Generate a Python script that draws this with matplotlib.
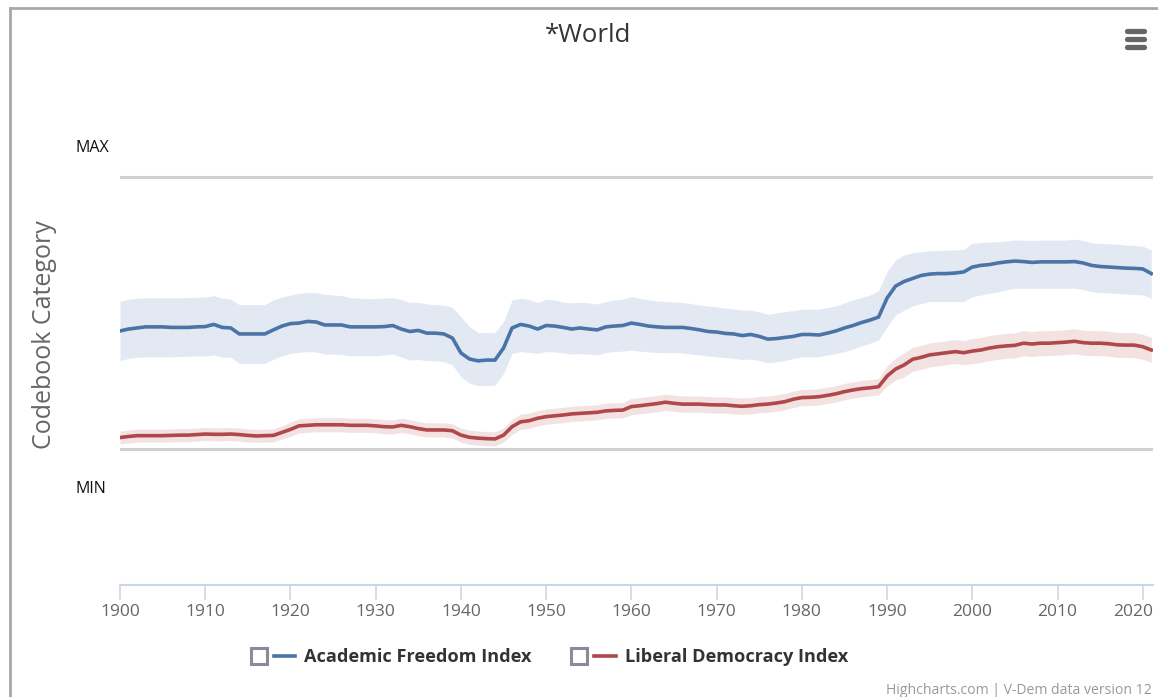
import matplotlib
matplotlib.use("Agg")
import matplotlib.pyplot as plt
from matplotlib.lines import Line2D
from matplotlib.legend_handler import HandlerTuple
from matplotlib.transforms import ScaledTranslation
import numpy as np

plt.rcParams['font.family'] = ['Open Sans', 'DejaVu Sans']

years = list(range(1900, 2022))

# Academic Freedom Index (0 = MIN, 1 = MAX)
afi = [0.434, 0.441, 0.445, 0.449, 0.449, 0.449, 0.447, 0.447, 0.447, 0.449,
       0.450, 0.458, 0.447, 0.445, 0.423, 0.423, 0.423, 0.423, 0.438, 0.452,
       0.461, 0.463, 0.469, 0.467, 0.456, 0.456, 0.456, 0.449, 0.449, 0.449,
       0.449, 0.450, 0.454, 0.441, 0.432, 0.436, 0.426, 0.426, 0.423, 0.408,
       0.353, 0.331, 0.324, 0.327, 0.327, 0.371, 0.445, 0.458, 0.452, 0.441,
       0.454, 0.452, 0.447, 0.441, 0.445, 0.441, 0.438, 0.449, 0.452, 0.454,
       0.463, 0.458, 0.452, 0.449, 0.447, 0.447, 0.447, 0.443, 0.438, 0.432,
       0.430, 0.425, 0.423, 0.417, 0.421, 0.414, 0.404, 0.406, 0.410, 0.414,
       0.421, 0.421, 0.419, 0.426, 0.434, 0.445, 0.454, 0.465, 0.474, 0.485,
       0.555, 0.599, 0.616, 0.627, 0.638, 0.643, 0.645, 0.645, 0.647, 0.651,
       0.669, 0.675, 0.678, 0.684, 0.688, 0.691, 0.689, 0.686, 0.688, 0.688,
       0.688, 0.688, 0.689, 0.684, 0.675, 0.671, 0.669, 0.667, 0.665, 0.664,
       0.662, 0.645]
afi_high = [0.542, 0.551, 0.554, 0.556, 0.556, 0.556, 0.556, 0.556, 0.557, 0.558,
            0.558, 0.564, 0.555, 0.551, 0.531, 0.531, 0.531, 0.531, 0.548, 0.559,
            0.566, 0.572, 0.575, 0.575, 0.569, 0.566, 0.564, 0.556, 0.555, 0.553,
            0.553, 0.555, 0.556, 0.550, 0.539, 0.540, 0.533, 0.531, 0.529, 0.521,
            0.486, 0.450, 0.428, 0.428, 0.428, 0.468, 0.548, 0.554, 0.550, 0.538,
            0.550, 0.548, 0.540, 0.537, 0.539, 0.537, 0.533, 0.542, 0.548, 0.551,
            0.560, 0.554, 0.548, 0.544, 0.542, 0.540, 0.539, 0.535, 0.529, 0.526,
            0.523, 0.518, 0.515, 0.511, 0.511, 0.504, 0.495, 0.500, 0.505, 0.509,
            0.514, 0.514, 0.514, 0.520, 0.526, 0.537, 0.548, 0.557, 0.566, 0.582,
            0.652, 0.695, 0.713, 0.722, 0.725, 0.729, 0.730, 0.731, 0.732, 0.734,
            0.756, 0.759, 0.761, 0.762, 0.765, 0.768, 0.768, 0.767, 0.768, 0.768,
            0.768, 0.768, 0.771, 0.767, 0.758, 0.756, 0.754, 0.753, 0.750, 0.748,
            0.746, 0.732]
afi_low = [0.325, 0.333, 0.337, 0.338, 0.339, 0.339, 0.339, 0.340, 0.341, 0.342,
           0.342, 0.346, 0.338, 0.337, 0.315, 0.315, 0.315, 0.315, 0.330, 0.342,
           0.352, 0.355, 0.358, 0.357, 0.349, 0.349, 0.347, 0.343, 0.343, 0.343,
           0.343, 0.346, 0.349, 0.338, 0.327, 0.329, 0.325, 0.324, 0.321, 0.309,
           0.266, 0.242, 0.233, 0.233, 0.235, 0.278, 0.352, 0.358, 0.355, 0.352,
           0.358, 0.357, 0.353, 0.349, 0.351, 0.349, 0.346, 0.355, 0.358, 0.360,
           0.364, 0.360, 0.357, 0.355, 0.354, 0.354, 0.353, 0.349, 0.346, 0.342,
           0.339, 0.336, 0.333, 0.329, 0.331, 0.325, 0.317, 0.320, 0.325, 0.333,
           0.339, 0.339, 0.339, 0.346, 0.351, 0.358, 0.368, 0.379, 0.389, 0.401,
           0.450, 0.493, 0.511, 0.526, 0.535, 0.542, 0.542, 0.542, 0.542, 0.542,
           0.560, 0.566, 0.572, 0.578, 0.585, 0.591, 0.591, 0.591, 0.591, 0.591,
           0.591, 0.591, 0.591, 0.586, 0.578, 0.575, 0.574, 0.572, 0.570, 0.568,
           0.566, 0.554]

# Liberal Democracy Index (0 = MIN, 1 = MAX)
ldi = [0.042, 0.046, 0.049, 0.049, 0.049, 0.049, 0.050, 0.051, 0.051, 0.053,
       0.055, 0.054, 0.054, 0.055, 0.053, 0.050, 0.048, 0.049, 0.050, 0.061,
       0.072, 0.085, 0.087, 0.089, 0.089, 0.089, 0.089, 0.087, 0.087, 0.087,
       0.085, 0.082, 0.081, 0.087, 0.082, 0.075, 0.070, 0.070, 0.070, 0.067,
       0.051, 0.043, 0.040, 0.038, 0.037, 0.051, 0.082, 0.100, 0.104, 0.113,
       0.119, 0.122, 0.125, 0.129, 0.131, 0.133, 0.135, 0.140, 0.142, 0.143,
       0.156, 0.159, 0.163, 0.167, 0.172, 0.168, 0.165, 0.165, 0.165, 0.163,
       0.162, 0.162, 0.159, 0.157, 0.159, 0.163, 0.165, 0.169, 0.174, 0.183,
       0.189, 0.190, 0.192, 0.197, 0.203, 0.211, 0.217, 0.222, 0.225, 0.229,
       0.268, 0.294, 0.309, 0.330, 0.337, 0.346, 0.350, 0.354, 0.358, 0.354,
       0.360, 0.364, 0.371, 0.376, 0.379, 0.381, 0.389, 0.386, 0.389, 0.389,
       0.391, 0.393, 0.396, 0.391, 0.389, 0.389, 0.387, 0.383, 0.382, 0.382,
       0.376, 0.364]
# half width of the LDI confidence band
ldi_err = [0.024] * 20 + [0.026] * 26 + [0.028] * 14 + [0.030] * 30 + \
          [0.037, 0.040] + [0.044] * 8 + [0.046] * 22

blue, blue_band = "#4a74a8", "#e3e9f2"
red, red_band = "#b0474a", "#f3e2e2"

fig = plt.figure(figsize=(11.58, 6.97), dpi=100)
ax = fig.add_axes([120 / 1158, 1 - 585 / 697, 1033 / 1158, 544 / 697])

yr = np.array(years)
ldi_a = np.array(ldi)
err = np.array(ldi_err)

ax.fill_between(yr, afi_low, afi_high, color=blue_band, lw=0, zorder=1)
ax.fill_between(yr, ldi_a - err, ldi_a + err, color=red_band, lw=0, zorder=1)
ax.plot(yr, afi, color=blue, lw=2.6, zorder=3)
ax.plot(yr, ldi, color=red, lw=2.6, zorder=3)

for v in (0, 1):
    ax.axhline(v, color="#d0d0d0", lw=2.2, zorder=0.5)

ax.set_xlim(1900, 2021.2)
ax.set_ylim(-0.5, 1.5)
ax.set_yticks([])
ax.set_xticks(range(1900, 2021, 10))
ax.tick_params(axis="x", colors="#ccd6eb", length=11, width=1.2, pad=3,
               labelcolor="#666666", labelsize=12.5)
# last label pushed left so it stays inside, as in the original
last = ax.get_xticklabels()[-1]
last.set_transform(last.get_transform() + ScaledTranslation(-0.10, 0, fig.dpi_scale_trans))
for s in ("top", "right", "left"):
    ax.spines[s].set_visible(False)
ax.spines["bottom"].set_color("#ccd6eb")
ax.spines["bottom"].set_linewidth(1.5)

ax.text(-0.0435, 1.107, "MAX", transform=ax.get_yaxis_transform(),
        ha="left", va="center", fontsize=11.5, color="#111111")
ax.text(-0.0435, -0.147, "MIN", transform=ax.get_yaxis_transform(),
        ha="left", va="center", fontsize=11.5, color="#111111")

fig.text(45 / 1158, 1 - 335 / 697, "Codebook Category", rotation=90,
         ha="center", va="center", fontsize=18, color="#666666")
fig.text(588 / 1158, 1 - 35 / 697, "*World", ha="center", va="center",
         fontsize=18.5, color="#333333")
fig.text(1152 / 1158, 1 - 690 / 697, "Highcharts.com | V-Dem data version 12",
         ha="right", va="center", fontsize=10.1, color="#999999")

# container border
fig.add_artist(Line2D([10 / 1158, 10 / 1158], [0, 1 - 8 / 697],
                      color="#a8a8a8", lw=2, transform=fig.transFigure))
fig.add_artist(Line2D([10 / 1158, 1], [1 - 8 / 697, 1 - 8 / 697],
                      color="#a8a8a8", lw=2, transform=fig.transFigure))

# menu icon
for yy in (31, 39, 47):
    fig.add_artist(Line2D([1127 / 1158, 1144 / 1158], [1 - yy / 697] * 2,
                          color="#666666", lw=3.8, solid_capstyle="round",
                          transform=fig.transFigure))

# legend
box = Line2D([], [], marker="s", markersize=12, markerfacecolor="white",
             markeredgecolor="#8a8a99", markeredgewidth=2.2, linestyle="none")
h1 = Line2D([], [], color=blue, lw=2.6)
h2 = Line2D([], [], color=red, lw=2.6)
fig.legend([(box, h1), (box, h2)],
           ["Academic Freedom Index", "Liberal Democracy Index"],
           handler_map={tuple: HandlerTuple(ndivide=2, pad=0.2)},
           loc="center", bbox_to_anchor=(548 / 1158, 1 - 657 / 697),
           ncol=2, frameon=False, handlelength=2.6, columnspacing=2.0,
           handletextpad=0.5, prop={"weight": "bold", "size": 13.1},
           labelcolor="#333333")

fig.savefig("out.png", dpi=100)
